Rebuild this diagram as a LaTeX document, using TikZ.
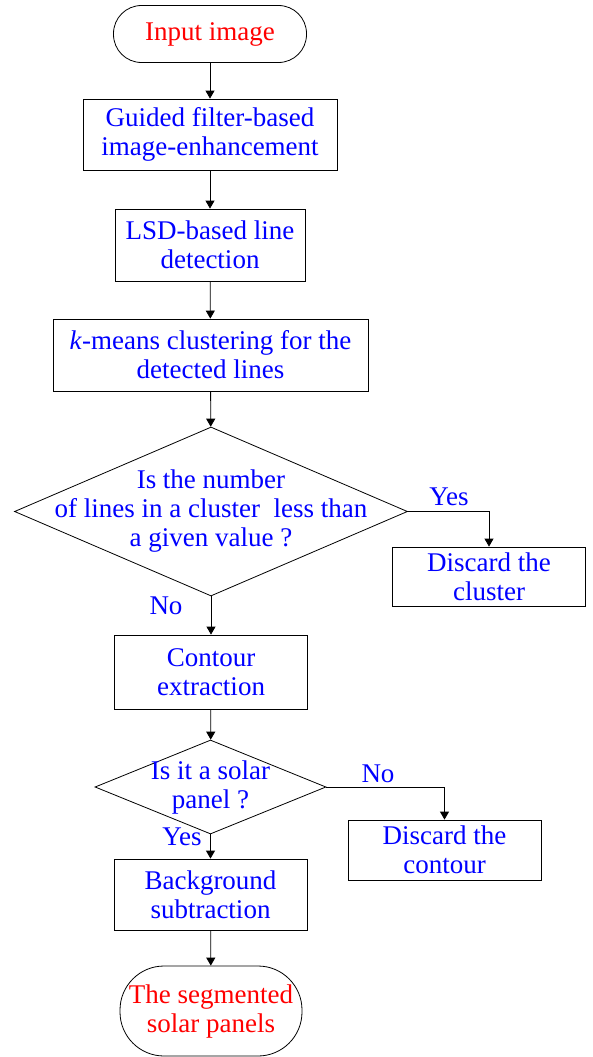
\documentclass[tikz,border=0pt]{standalone}
\usepackage{fontspec}
\setmainfont{Liberation Serif}
\newfontfamily\flowfont{Liberation Serif}
\usepackage{tikz}
\usetikzlibrary{shapes.geometric}
\usetikzlibrary{arrows.meta}
\usetikzlibrary{positioning}

\begin{document}
\begin{tikzpicture}[x=1pt,y=-1pt,->,>={Triangle[length=8pt,width=9pt]},line width=0.8pt,
    font=\flowfont\fontsize{27}{29}\selectfont,
    box node/.style={rectangle,draw,-,text=blue,align=center,inner sep=0pt},
    term node/.style={rectangle,draw,-,text=red,align=center,inner sep=0pt},
    dec node/.style={diamond,draw,-,inner sep=0pt},
    lbl node/.style={text=blue,inner sep=0pt}]
   \useasboundingbox (0,0) rectangle (593,1057);
   \begin{scope}
      \node[term node,minimum width=193pt,minimum height=57pt,rounded corners=28pt] (input) at (210,34) {Input image};
      \node[box node,minimum width=254pt,minimum height=71pt] (guided) at (210,134.5) {Guided filter-based\\image-enhancement};
      \node[box node,minimum width=190pt,minimum height=72pt] (lsd) at (210,245) {LSD-based line\\detection};
      \node[box node,minimum width=315pt,minimum height=72pt] (kmeans) at (210.5,355) {\textit{k}-means clustering for the\\detected lines};
      \node[dec node,minimum width=393pt,minimum height=169pt,
        label={[text=blue,align=center]center:Is the number\\of lines in a cluster\ \ less than\\a given value ?}] (num) at (211,511.5) {};
      \node[box node,minimum width=193pt,minimum height=59pt] (cluster) at (489,576.5) {Discard the\\cluster};
      \node[box node,minimum width=193pt,minimum height=74pt] (contour) at (211,672) {Contour\\extraction};
      \node[dec node,minimum width=231pt,minimum height=94pt,
        label={[text=blue,align=center]center:Is it a solar\\panel ?}] (solar) at (210.5,787) {};
      \node[box node,minimum width=193pt,minimum height=60pt] (dcontour) at (444.5,850) {Discard the\\contour};
      \node[box node,minimum width=193pt,minimum height=71pt] (backg) at (210.5,894.5) {Background\\subtraction};
      \node[term node,minimum width=182pt,minimum height=90pt,rounded corners=44pt] (output) at (211,1011) {The segmented\\solar panels};
      %labels
      \node[lbl node] (yes1) at (449,497) {Yes};
      \node[lbl node] (no1) at (166,606) {No};
      \node[lbl node] (no2) at (378,774) {No};
      \node[lbl node] (yes2) at (182,837) {Yes};
       \path (input) edge (guided);
       \path (guided) edge (lsd);
       \path (lsd) edge (kmeans);
       \path (kmeans) edge (num);
       \path (num) edge (contour);
       \path (contour) edge (solar);
       \path (solar) edge (backg);
       \path (backg) edge (output);
       \draw (num.east) -| (cluster.north);
       \draw (solar.east) -| (dcontour.north);
    \end{scope}
  \end{tikzpicture}
\end{document}
